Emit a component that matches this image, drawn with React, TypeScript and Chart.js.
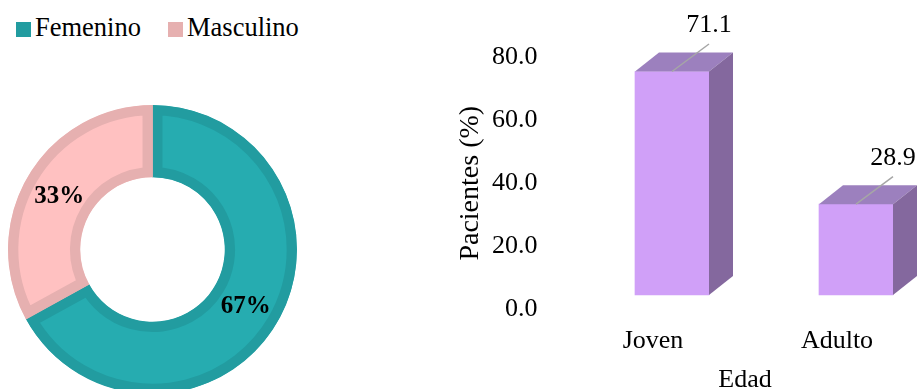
import React, { useEffect, useRef } from 'react';
import { Chart, registerables } from 'chart.js';

Chart.register(...registerables);

// Sexo de los pacientes
const genderLabels = ['Femenino', 'Masculino'];
const genderValues = [67, 33];
const genderFill = ['#26ACB0', '#FFC1C1'];
const genderBorder = ['#229CA0', '#E6B0B0'];

// Edad de los pacientes (%)
const ageCategories = ['Joven', 'Adulto'];
const ageValues = [71.1, 28.9];
const yTicks = [0, 20, 40, 60, 80];

const SERIF = "'Times New Roman', 'Liberation Serif', 'DejaVu Serif', serif";

const FRONT = '#D0A0F8';
const TOP = '#9C80BE';
const SIDE = '#84689E';
const DEPTH_X = 24;
const DEPTH_Y = -19;

// percentage text in the middle of each ring segment
const pctLabels = {
  id: 'pctLabels',
  afterDatasetsDraw(chart: any) {
    const ctx = chart.ctx;
    ctx.save();
    ctx.font = `bold 25px ${SERIF}`;
    ctx.fillStyle = '#000';
    ctx.textAlign = 'center';
    ctx.textBaseline = 'middle';
    chart.getDatasetMeta(0).data.forEach((arc: any, i: number) => {
      const p = arc.tooltipPosition(true);
      ctx.fillText(`${genderValues[i]}%`, p.x, p.y + 2);
    });
    ctx.restore();
  },
};

// top and side faces of each column, plus the value callouts
const bar3d = {
  id: 'bar3d',
  afterDatasetsDraw(chart: any) {
    const ctx = chart.ctx;
    ctx.save();
    chart.getDatasetMeta(0).data.forEach((el: any, i: number) => {
      const { x, y, base, width } = el.getProps(['x', 'y', 'base', 'width'], true);
      const l = x - width / 2;
      const r = x + width / 2;

      ctx.fillStyle = TOP;
      ctx.beginPath();
      ctx.moveTo(l, y);
      ctx.lineTo(l + DEPTH_X, y + DEPTH_Y);
      ctx.lineTo(r + DEPTH_X, y + DEPTH_Y);
      ctx.lineTo(r, y);
      ctx.closePath();
      ctx.fill();

      ctx.fillStyle = SIDE;
      ctx.beginPath();
      ctx.moveTo(r, y);
      ctx.lineTo(r + DEPTH_X, y + DEPTH_Y);
      ctx.lineTo(r + DEPTH_X, base + DEPTH_Y);
      ctx.lineTo(r, base);
      ctx.closePath();
      ctx.fill();

      ctx.strokeStyle = '#A6A6A6';
      ctx.lineWidth = 1.5;
      ctx.beginPath();
      ctx.moveTo(x, y);
      ctx.lineTo(x + 37, y - 27.5);
      ctx.stroke();

      ctx.font = `26px ${SERIF}`;
      ctx.fillStyle = '#000';
      ctx.textAlign = 'center';
      ctx.textBaseline = 'middle';
      ctx.fillText(ageValues[i].toFixed(1), x + 37, y - 46);
    });
    ctx.restore();
  },
};

export default function App() {
  const pieRef = useRef<HTMLCanvasElement>(null);
  const barRef = useRef<HTMLCanvasElement>(null);

  useEffect(() => {
    const pie = new Chart(pieRef.current as HTMLCanvasElement, {
      type: 'doughnut',
      data: {
        labels: genderLabels,
        datasets: [
          {
            data: genderValues,
            backgroundColor: genderFill,
            borderColor: genderBorder,
            borderWidth: 10,
            borderAlign: 'inner',
            hoverOffset: 0,
          } as any,
        ],
      },
      options: {
        responsive: false,
        animation: false,
        events: [],
        cutout: '50%',
        layout: { padding: 0 },
        plugins: { legend: { display: false }, tooltip: { enabled: false } },
      },
      plugins: [pctLabels],
    });

    const bar = new Chart(barRef.current as HTMLCanvasElement, {
      type: 'bar',
      data: {
        datasets: [
          {
            data: ageCategories.map((_, i) => ({ x: i, y: ageValues[i] })),
            backgroundColor: FRONT,
            borderWidth: 0,
            barThickness: 74,
            clip: false,
            xAxisID: 'x',
            yAxisID: 'yBar',
          } as any,
        ],
      },
      options: {
        responsive: false,
        animation: false,
        events: [],
        layout: { padding: { top: 57.5, right: 32, bottom: 0, left: 0 } },
        plugins: { legend: { display: false }, tooltip: { enabled: false } },
        scales: {
          x: {
            type: 'linear',
            position: 'bottom',
            min: -0.3913,
            max: 1.1848,
            offset: false,
            afterBuildTicks: (s: any) => {
              s.ticks = ageCategories.map((_, i) => ({ value: i }));
            },
            afterFit: (s: any) => {
              s.height = 87;
              s.paddingLeft = 0;
              s.paddingRight = 0;
            },
            grid: { display: false, drawTicks: false },
            border: { display: false },
            ticks: {
              callback: (v: any) => ageCategories[Math.round(Number(v))] ?? '',
              labelOffset: -19,
              padding: 17,
              autoSkip: false,
              maxRotation: 0,
              font: { family: SERIF, size: 26 },
              color: '#000',
            },
            title: {
              display: true,
              text: 'Edad',
              font: { family: SERIF, size: 26 },
              color: '#000',
              padding: { top: 0, bottom: 0 },
            },
          },
          y: {
            type: 'linear',
            position: 'left',
            min: 0,
            max: 80,
            afterBuildTicks: (s: any) => {
              s.ticks = yTicks.map((v) => ({ value: v }));
            },
            afterFit: (s: any) => {
              s.width = 160;
              s.paddingTop = 0;
              s.paddingBottom = 0;
            },
            grid: { display: false, drawTicks: false },
            border: { display: false },
            ticks: {
              callback: (v: any) => Number(v).toFixed(1),
              padding: 62.5,
              font: { family: SERIF, size: 26 },
              color: '#000',
            },
            title: {
              display: true,
              text: 'Pacientes (%)',
              font: { family: SERIF, size: 28 },
              color: '#000',
              padding: { top: 14.2, bottom: 0 },
            },
          },
          yBar: {
            type: 'linear',
            position: 'left',
            display: false,
            min: -4.45,
            max: 75.55,
          },
        },
      } as any,
      plugins: [bar3d],
    });

    return () => {
      pie.destroy();
      bar.destroy();
    };
  }, []);

  const legendText: React.CSSProperties = {
    position: 'absolute',
    top: 14.3,
    fontFamily: SERIF,
    fontSize: 26.5,
    lineHeight: '26.5px',
    color: '#000',
    whiteSpace: 'nowrap',
  };
  const swatchLeft = [16, 168];
  const textLeft = [35, 187];

  return (
    <div
      style={{
        position: 'absolute',
        left: 0,
        top: 0,
        width: 922,
        height: 389,
        overflow: 'hidden',
        background: '#fff',
      }}
    >
      {genderLabels.map((name, i) => (
        <React.Fragment key={name}>
          <div
            style={{
              position: 'absolute',
              left: swatchLeft[i],
              top: 22,
              width: 15,
              height: 15,
              background: genderBorder[i],
            }}
          />
          <div style={{ ...legendText, left: textLeft[i] }}>{name}</div>
        </React.Fragment>
      ))}
      <canvas
        ref={pieRef}
        width={289}
        height={289}
        style={{ position: 'absolute', left: 8, top: 105, width: 289, height: 289 }}
      />
      <canvas
        ref={barRef}
        width={482}
        height={396}
        style={{ position: 'absolute', left: 440, top: 0, width: 482, height: 396 }}
      />
    </div>
  );
}
